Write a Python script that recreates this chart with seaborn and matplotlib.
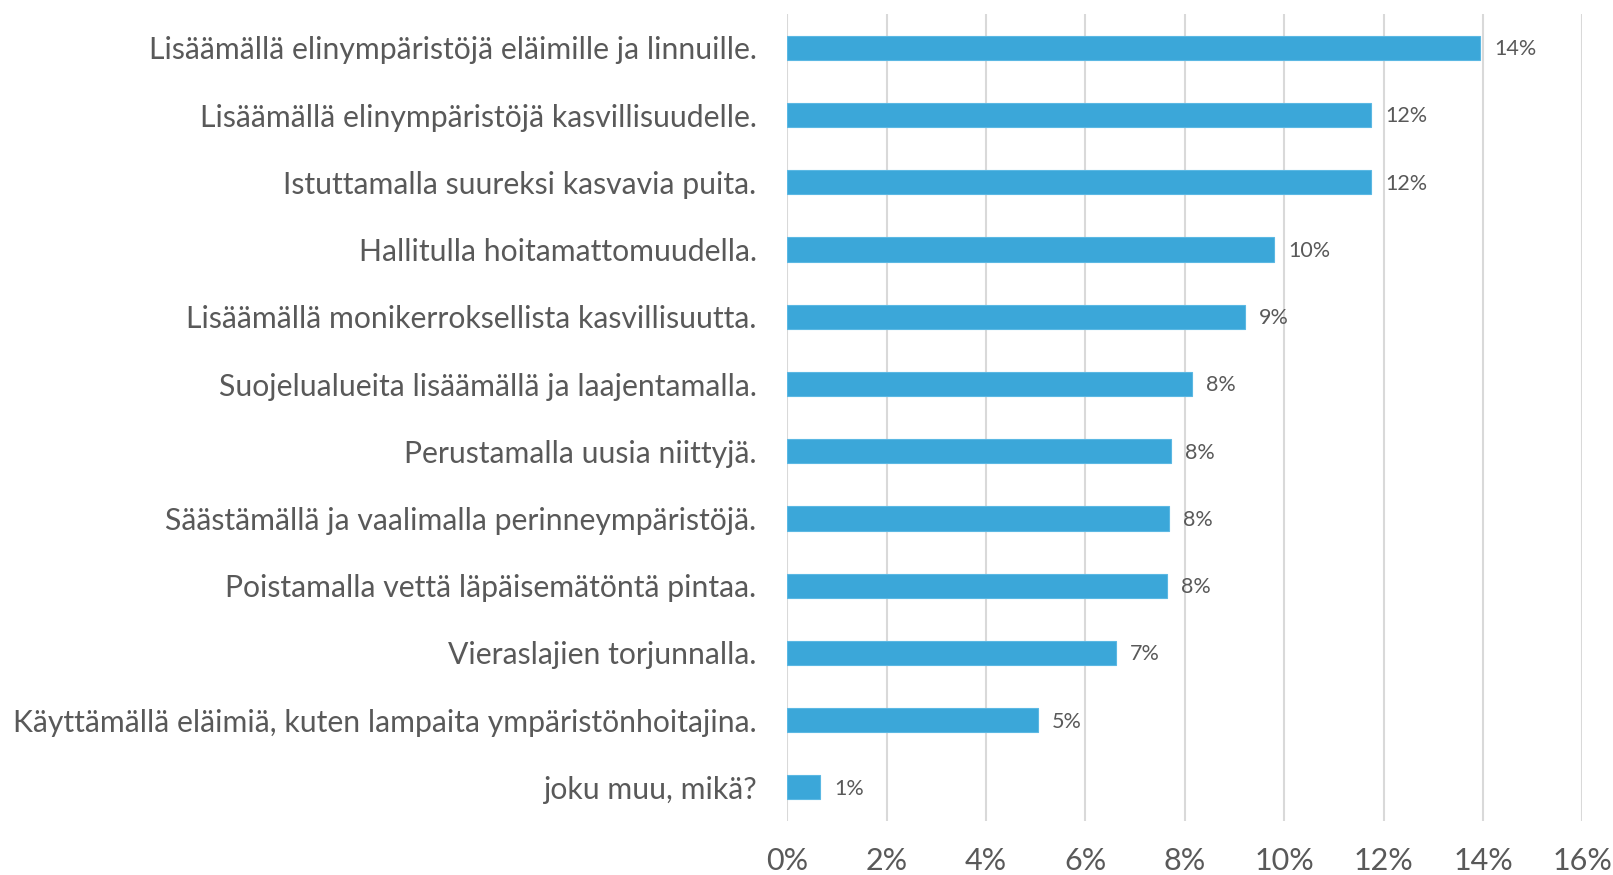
import matplotlib
matplotlib.use("Agg")
import matplotlib.pyplot as plt
import seaborn as sns
import pandas as pd
from matplotlib.ticker import FuncFormatter

categories = [
    "Lisäämällä elinympäristöjä eläimille ja linnuille.",
    "Lisäämällä elinympäristöjä kasvillisuudelle.",
    "Istuttamalla suureksi kasvavia puita.",
    "Hallitulla hoitamattomuudella.",
    "Lisäämällä monikerroksellista kasvillisuutta.",
    "Suojelualueita lisäämällä ja laajentamalla.",
    "Perustamalla uusia niittyjä.",
    "Säästämällä ja vaalimalla perinneympäristöjä.",
    "Poistamalla vettä läpäisemätöntä pintaa.",
    "Vieraslajien torjunnalla.",
    "Käyttämällä eläimiä, kuten lampaita ympäristönhoitajina.",
    "joku muu, mikä?",
]
shares = [13.95, 11.75, 11.75, 9.80, 9.22, 8.14, 7.73, 7.69, 7.65, 6.61, 5.04, 0.66]
x_ticks = [0, 2, 4, 6, 8, 10, 12, 14, 16]

df = pd.DataFrame({"category": categories, "share": shares})

sns.set_theme(style="white")
plt.rcParams["font.family"] = ["Lato", "DejaVu Sans"]

text_color = "#595959"
bar_color = "#3BA7D9"

fig = plt.figure(figsize=(16.13, 8.75), dpi=100)
ax = fig.add_axes([0.488, 0.0617, 0.493, 0.922])

sns.barplot(data=df, x="share", y="category", orient="h", color=bar_color,
            width=0.36, saturation=1, edgecolor="#5BB8E3", linewidth=0.8, ax=ax)

ax.set_xlim(0, 16)
ax.set_ylim(len(categories) - 0.5, -0.5)
ax.set_xticks(x_ticks)
ax.xaxis.set_major_formatter(FuncFormatter(lambda v, _: f"{v:.0f}%"))
ax.grid(axis="x", color="#D9D9D9", linewidth=1.5)
ax.set_axisbelow(True)
for s in ax.spines.values():
    s.set_visible(False)
ax.set_xlabel("")
ax.set_ylabel("")
ax.tick_params(axis="y", length=0, pad=22, labelsize=21.7, labelcolor=text_color)
ax.tick_params(axis="x", length=0, pad=19, labelsize=22, labelcolor=text_color)

for i, v in enumerate(shares):
    ax.annotate(f"{v:.0f}%", xy=(v, i), xytext=(10, -1), textcoords="offset points",
                va="center", ha="left", fontsize=15.5, color=text_color)

fig.savefig("out.png", dpi=100)
